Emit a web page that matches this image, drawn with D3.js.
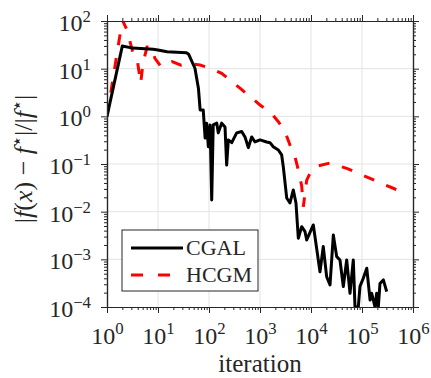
<!DOCTYPE html>
<html lang="en">
<head>
<meta charset="UTF-8">
<title>CGAL vs HCGM</title>
<script src="https://cdn.jsdelivr.net/npm/d3@7"></script>
<style>
  body { margin: 0; background: #fff; }
  svg text { font-family: "Liberation Serif", "DejaVu Serif", serif; fill: #262626; }
</style>
</head>
<body>
<div id="chart"></div>
<script>
// iteration / relative error
const cgalIter = [1, 2, 3.2, 8, 10, 15, 36, 40, 53, 62, 67, 77, 84, 90, 97, 105, 113, 121, 142, 152,
  177, 206, 222, 239, 279, 349, 438, 508, 590, 687, 798, 1000, 1350, 1570, 1820, 2290, 2660, 2860,
  3340, 3870, 4500, 5080, 5640, 6570, 7630, 8240, 11100, 13900, 15000, 17400, 20300, 23600, 27400,
  31900, 37000, 43000, 50100, 58200, 67500, 72900, 84600, 91300, 106000, 124000, 144000, 155000,
  180000, 194000, 209000, 225000, 262000, 305000];
const cgalErr = [1.0, 30, 27, 25.5, 24.7, 22.7, 21.6, 20, 10.2, 3.9, 1.36, 1.36, 0.35, 0.72, 0.23, 0.66,
  0.0176, 0.66, 0.72, 0.45, 0.72, 0.6, 0.095, 0.32, 0.28, 0.45, 0.48, 0.37, 0.22, 0.37, 0.29, 0.32,
  0.29, 0.28, 0.23, 0.197, 0.155, 0.088, 0.0194, 0.0152, 0.0285, 0.015, 0.00277, 0.00484, 0.0038,
  0.00255, 0.00526, 0.00097, 0.00055, 0.00185, 0.00043, 0.00029, 0.00324, 0.00114, 0.00097, 0.00027,
  0.00097, 0.000194, 0.00097, 0.0001, 0.0001, 0.00027, 0.0004, 0.00065, 0.00014, 0.000194, 0.0001,
  0.000194, 0.0001, 0.00031, 0.00037, 0.00021];

const hcgmIter = [1, 2.0, 2.47, 3.24, 3.87, 4.58, 5.08, 6.1, 7.5, 8.7, 11.5, 15.7, 18.8, 28.2, 37.5,
  66.6, 105, 177, 258, 405, 637, 1000, 1570, 2290, 3090, 3870, 4850, 5640, 6570, 7070, 7630, 8240,
  10300, 13700, 23600, 50100, 84600, 144000, 243000, 411000, 697000];
const hcgmErr = [1, 105, 65, 21, 16.7, 4.9, 13.2, 28.5, 28.9, 16.5, 11, 13.2, 14, 11.9, 13,
  11.9, 10.3, 8.0, 5.8, 3.9, 2.6, 1.73, 1.25, 0.77, 0.48, 0.25, 0.142, 0.075, 0.0346, 0.0127, 0.0243, 0.046,
  0.075, 0.091, 0.105, 0.081, 0.064, 0.050, 0.039, 0.031, 0.0243];

const xMajor = [1, 10, 100, 1e3, 1e4, 1e5, 1e6];
const yMajor = [1e-4, 1e-3, 1e-2, 1e-1, 1, 10, 100];
const seriesNames = ["CGAL", "HCGM"];

const W = 431, H = 378;
const margin = {left: 107, right: 18, top: 21, bottom: 71};
const pw = W - margin.left - margin.right;
const ph = H - margin.top - margin.bottom;

const svg = d3.select("#chart").append("svg")
  .attr("width", W).attr("height", H);

const x = d3.scaleLog().domain([1, 1e6]).range([0, pw]);
const y = d3.scaleLog().domain([1e-4, 1e2]).range([ph, 0]);

const g = svg.append("g").attr("transform", `translate(${margin.left},${margin.top})`);

// minor ticks 2..9 in every decade
const minorOf = majors => {
  const out = [];
  for (let i = 0; i < majors.length - 1; i++)
    for (let k = 2; k <= 9; k++) out.push(majors[i] * k);
  return out;
};
const xMinor = minorOf(xMajor);
const yMinor = minorOf(yMajor);

// grid
g.append("g").selectAll("line").data(xMajor.slice(1, -1)).join("line")
  .attr("x1", d => x(d)).attr("x2", d => x(d))
  .attr("y1", 0).attr("y2", ph)
  .attr("stroke", "#e3e3e3").attr("stroke-width", 1);
g.append("g").selectAll("line").data(yMajor.slice(1, -1)).join("line")
  .attr("y1", d => y(d)).attr("y2", d => y(d))
  .attr("x1", 0).attr("x2", pw)
  .attr("stroke", "#e3e3e3").attr("stroke-width", 1);

// data
svg.append("defs").append("clipPath").attr("id", "clip")
  .append("rect").attr("width", pw).attr("height", ph);

const line = d3.line().x(d => x(d[0])).y(d => y(d[1]));
const plot = g.append("g").attr("clip-path", "url(#clip)");

plot.append("path")
  .datum(hcgmIter.map((v, i) => [v, hcgmErr[i]]))
  .attr("d", line)
  .attr("fill", "none").attr("stroke", "#ff0000")
  .attr("stroke-width", 3).attr("stroke-dasharray", "11,13");

plot.append("path")
  .datum(cgalIter.map((v, i) => [v, cgalErr[i]]))
  .attr("d", line)
  .attr("fill", "none").attr("stroke", "#000")
  .attr("stroke-width", 3).attr("stroke-linejoin", "round");

// axes
const supLabel = (sel) => {
  sel.selectAll(".tick text").each(function(d) {
    const e = Math.round(Math.log10(d));
    const t = d3.select(this).text("");
    t.append("tspan").text("10");
    t.append("tspan").attr("font-size", "0.7em").attr("dy", "-0.55em")
      .text(e < 0 ? "\u2212" + (-e) : e);
  });
};

function axisSet(axisFn, scale, transform, labels, fontSize, pad) {
  const a1 = g.append("g").attr("transform", transform)
    .call(axisFn(scale).tickValues(scale === x ? xMinor : yMinor)
      .tickSize(3).tickSizeOuter(0).tickFormat(""));
  const a2 = g.append("g").attr("transform", transform)
    .call(axisFn(scale).tickValues(scale === x ? xMajor : yMajor)
      .tickSize(6).tickSizeOuter(0).tickPadding(pad || 7)
      .tickFormat(labels ? (d => d) : ""));
  [a1, a2].forEach(a => {
    a.select(".domain").attr("stroke", "#262626").attr("stroke-width", 1.2);
    a.selectAll(".tick line").attr("stroke", "#262626").attr("stroke-width", 1);
  });
  if (labels) {
    a2.selectAll(".tick text").attr("font-size", fontSize).attr("fill", "#262626");
    a2.call(supLabel);
  }
  return a2;
}

const xb = axisSet(d3.axisBottom, x, `translate(0,${ph})`, true, 24, 7);
axisSet(d3.axisTop, x, "translate(0,0)", false);
const yl = axisSet(d3.axisLeft, y, "translate(0,0)", true, 24, 10);
axisSet(d3.axisRight, y, `translate(${pw},0)`, false);
xb.selectAll(".tick text").attr("dy", "0.98em");
yl.selectAll(".tick text").attr("dy", "0.4em");

// axis titles
svg.append("text")
  .attr("x", margin.left + pw / 2).attr("y", 372)
  .attr("text-anchor", "middle").attr("font-size", 25)
  .text("iteration");

const yt = svg.append("text")
  .attr("transform", `translate(32,159) rotate(-90)`)
  .attr("text-anchor", "middle").attr("font-size", 26);
yt.append("tspan").text("|");
yt.append("tspan").attr("font-style", "italic").text("f");
yt.append("tspan").text("(");
yt.append("tspan").attr("font-style", "italic").text("x");
yt.append("tspan").text(") \u2212 ");
yt.append("tspan").attr("font-style", "italic").text("f");
yt.append("tspan").attr("font-size", "0.7em").attr("dy", "-0.5em").text("\u22c6");
yt.append("tspan").attr("dy", "0.35em").text("|/|");
yt.append("tspan").attr("font-style", "italic").text("f");
yt.append("tspan").attr("font-size", "0.7em").attr("dy", "-0.5em").text("\u22c6");
yt.append("tspan").attr("dy", "0.35em").text("|");

// legend
const lg = svg.append("g").attr("transform", "translate(122,230)");
lg.append("rect").attr("width", 136).attr("height", 61)
  .attr("fill", "#fff").attr("stroke", "#262626").attr("stroke-width", 1);
const legStyles = [
  {stroke: "#000", dash: null},
  {stroke: "#ff0000", dash: "12,15"}
];
seriesNames.forEach((name, i) => {
  const yy = 18 + i * 27;
  lg.append("line").attr("x1", 9).attr("x2", 61).attr("y1", yy).attr("y2", yy)
    .attr("stroke", legStyles[i].stroke).attr("stroke-width", 3)
    .attr("stroke-dasharray", legStyles[i].dash);
  lg.append("text").attr("x", 64).attr("y", yy + 7)
    .attr("font-size", 22).text(name);
});
</script>
</body>
</html>
